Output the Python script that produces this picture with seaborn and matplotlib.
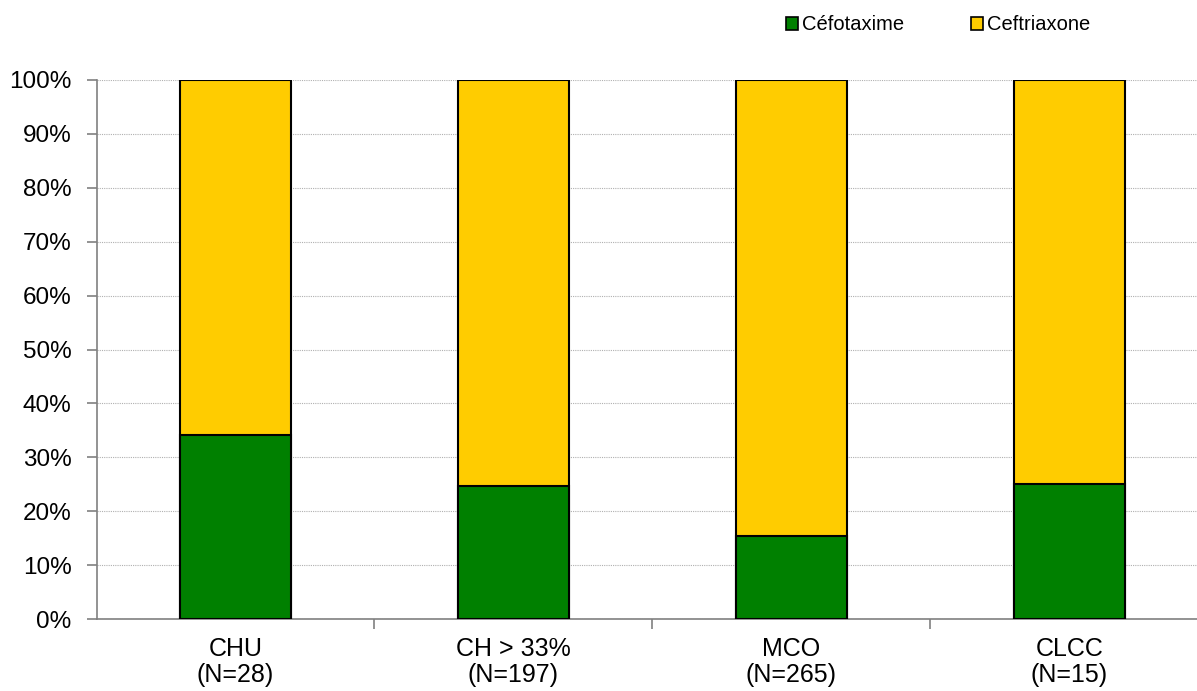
import matplotlib
matplotlib.use("Agg")
import matplotlib.pyplot as plt
from matplotlib.patches import Patch
from matplotlib.ticker import FixedLocator, PercentFormatter
import seaborn as sns
import pandas as pd

categories = ["CHU\n(N=28)", "CH > 33%\n(N=197)", "MCO\n(N=265)", "CLCC\n(N=15)"]
cefotaxime = [34.2, 24.7, 15.4, 25.0]
ceftriaxone = [100 - v for v in cefotaxime]

df = pd.DataFrame({"cat": categories, "cefo": cefotaxime, "ceftri": ceftriaxone})
df["total"] = df["cefo"] + df["ceftri"]

green = "#008000"
yellow = "#FFCC00"

sns.set_style("white")
plt.rcParams["font.family"] = ["Liberation Sans", "DejaVu Sans"]
plt.rcParams["text.color"] = "black"
plt.rcParams["xtick.color"] = "black"
plt.rcParams["ytick.color"] = "black"

fig = plt.figure(figsize=(11.97, 6.91), dpi=100)
ax = fig.add_axes([96.5 / 1197, 1 - 619 / 691, (1208.5 - 96.5) / 1197, (619 - 80) / 691])

sns.barplot(data=df, x="cat", y="total", color=yellow, width=0.4,
            edgecolor="black", linewidth=1.5, saturation=1, ax=ax, zorder=3)
sns.barplot(data=df, x="cat", y="cefo", color=green, width=0.4,
            edgecolor="black", linewidth=1.5, saturation=1, ax=ax, zorder=3)

ax.set_xlim(-0.5, 3.5)
ax.set_ylim(0, 100)
ax.set_yticks(range(0, 101, 10))
ax.yaxis.set_major_formatter(PercentFormatter(decimals=0))
ax.yaxis.grid(True, color="#b0b0b0", linestyle=(0, (1, 1)), linewidth=0.8, zorder=0)
ax.set_xlabel("")
ax.set_ylabel("")

ax.tick_params(axis="x", which="major", bottom=False, labelsize=18, pad=9.5)
for lbl in ax.get_xticklabels():
    lbl.set_linespacing(1.12)
ax.xaxis.set_minor_locator(FixedLocator([0.5, 1.5, 2.5]))
ax.tick_params(axis="x", which="minor", bottom=True, length=7, color="#808080", width=1.2, direction="out")
ax.tick_params(axis="y", left=True, length=7, color="#808080", width=1.2, direction="out",
               labelsize=17.5, pad=11)

for s in ["top", "right"]:
    ax.spines[s].set_visible(False)
for s in ["left", "bottom"]:
    ax.spines[s].set_color("#808080")
    ax.spines[s].set_linewidth(1.2)

handles = [Patch(facecolor=green, edgecolor="black", linewidth=1.2, label="Céfotaxime"),
           Patch(facecolor=yellow, edgecolor="black", linewidth=1.2, label="Ceftriaxone")]
fig.legend(handles=handles, loc="center left", bbox_to_anchor=(776 / 1197, 1 - 25 / 691),
           ncol=2, frameon=False, fontsize=14.5, handlelength=0.6, handleheight=0.6,
           handletextpad=0.2, columnspacing=3.3, borderpad=0)

fig.savefig("out.png", dpi=100)
